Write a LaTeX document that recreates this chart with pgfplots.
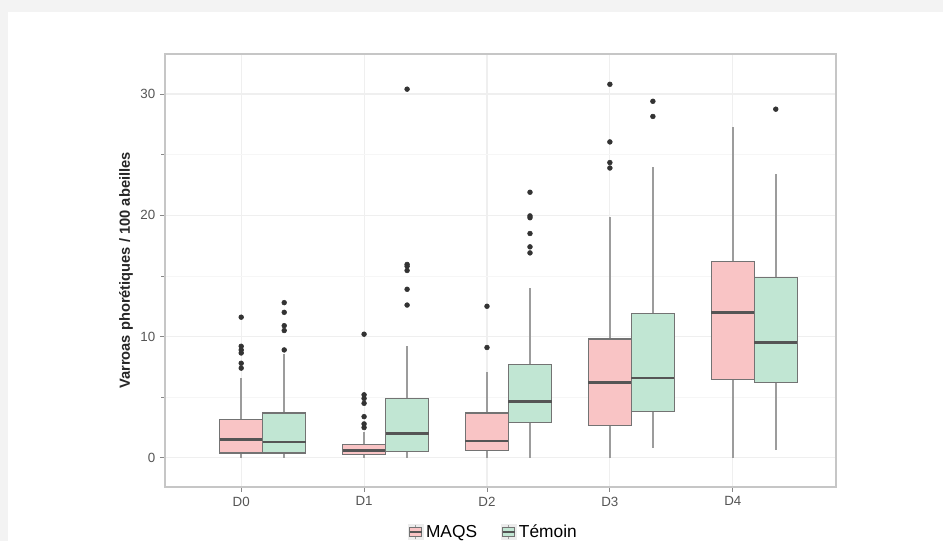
\documentclass[border=0pt]{standalone}
\usepackage{pgfplots}
\pgfplotsset{compat=1.18}
\usepgfplotslibrary{statistics}
\usepackage{fontspec}
\setmainfont{Liberation Sans}

\definecolor{maqsfill}{HTML}{F9C4C5}
\definecolor{temfill}{HTML}{C1E6D3}
\definecolor{boxedge}{HTML}{737373}
\definecolor{medline}{HTML}{555555}
\definecolor{whisk}{HTML}{9C9C9C}
\definecolor{tickgray}{HTML}{555555}
\definecolor{gridmaj}{HTML}{EFEFEF}
\definecolor{gridmin}{HTML}{F6F6F6}
\definecolor{pagegray}{HTML}{F3F3F3}
\definecolor{outlier}{HTML}{333333}

\pgfplotsset{
  vbox/.style={
    boxplot/draw direction=y,
    boxplot/box extend=0.35,
    boxplot/whisker extend=0,
    boxplot/every box/.style={draw=boxedge, line width=0.8pt},
    boxplot/every whisker/.style={draw=whisk, line width=1.3pt},
    boxplot/every median/.style={draw=medline, line width=1.8pt},
    mark=*, mark size=1.8pt,
    mark options={fill=outlier, draw=outlier},
    forget plot,
  },
  maqs/.style={vbox, fill=maqsfill, draw=boxedge},
  tem/.style={vbox, fill=temfill, draw=boxedge},
}

\begin{document}
\begin{tikzpicture}
% page background
\path[use as bounding box] (-123.75pt,-40.5pt) rectangle (583.5pt,365.25pt);
\fill[pagegray] (-123.75pt,-40.5pt) rectangle (583.5pt,365.25pt);
\fill[white] (-117.75pt,-40.5pt) rectangle (583.5pt,356.25pt);

\begin{axis}[
  scale only axis,
  width=503.25pt, height=324.75pt,
  xmin=-0.62, xmax=4.84,
  ymin=-2.4, ymax=33.3,
  xtick={0,1,2,3,4},
  xticklabels={D0,D1,D2,D3,D4},
  ytick={0,10,20,30},
  minor ytick={5,15,25},
  xmajorgrids, ymajorgrids, yminorgrids,
  major grid style={draw=gridmaj, line width=0.8pt},
  minor grid style={draw=gridmin, line width=0.6pt},
  axis line style={draw=gray!45, line width=0.9pt},
  tick pos=left,
  tick align=outside,
  major tick length=3.75pt,
  every tick/.style={draw=tickgray!70, line width=0.6pt},
  /pgf/number format/assume math mode=true,
  tick label style={font=\fontsize{10}{11}\selectfont, text=tickgray},
  ylabel={Varroas phorétiques / 100 abeilles},
  ylabel style={font=\bfseries\fontsize{11}{13}\selectfont, text=black!85,
    at={(axis description cs:-0.058,0.5)}, anchor=center},
  legend columns=2,
  legend style={at={(0.49,0)}, anchor=center, yshift=-33.75pt,
    draw=none, fill=none, font=\fontsize{13}{15}\selectfont,
    /tikz/every even column/.append style={column sep=16pt}},
]

% D0
\addplot[maqs, boxplot prepared={draw position=0, lower whisker=0, lower quartile=0.4,
  median=1.5, upper quartile=3.2, upper whisker=6.6}]
  coordinates {(0,11.6) (0,9.2) (0,8.9) (0,8.65) (0,7.8) (0,7.4)};
\addplot[tem, boxplot prepared={draw position=0.35, lower whisker=0, lower quartile=0.4,
  median=1.3, upper quartile=3.7, upper whisker=8.6}]
  coordinates {(0,12.8) (0,12.0) (0,10.9) (0,10.5) (0,8.9)};

% D1
\addplot[maqs, boxplot prepared={draw position=1, lower whisker=0, lower quartile=0.25,
  median=0.6, upper quartile=1.1, upper whisker=2.1}]
  coordinates {(0,10.2) (0,5.2) (0,4.9) (0,4.5) (0,3.4) (0,2.8) (0,2.5)};
\addplot[tem, boxplot prepared={draw position=1.35, lower whisker=0, lower quartile=0.5,
  median=2.0, upper quartile=4.9, upper whisker=9.2}]
  coordinates {(0,30.4) (0,15.95) (0,15.8) (0,15.45) (0,13.9) (0,12.6)};

% D2
\addplot[maqs, boxplot prepared={draw position=2, lower whisker=0, lower quartile=0.6,
  median=1.4, upper quartile=3.7, upper whisker=7.1}]
  coordinates {(0,12.5) (0,9.1)};
\addplot[tem, boxplot prepared={draw position=2.35, lower whisker=0, lower quartile=2.9,
  median=4.65, upper quartile=7.7, upper whisker=14.0}]
  coordinates {(0,21.9) (0,19.95) (0,19.8) (0,18.5) (0,17.4) (0,16.9)};

% D3
\addplot[maqs, boxplot prepared={draw position=3, lower whisker=0, lower quartile=2.7,
  median=6.2, upper quartile=9.8, upper whisker=19.9}]
  coordinates {(0,30.8) (0,26.05) (0,24.35) (0,23.9)};
\addplot[tem, boxplot prepared={draw position=3.35, lower whisker=0.8, lower quartile=3.8,
  median=6.6, upper quartile=11.9, upper whisker=24.0}]
  coordinates {(0,29.4) (0,28.15)};

% D4
\addplot[maqs, boxplot prepared={draw position=4, lower whisker=0, lower quartile=6.5,
  median=12.0, upper quartile=16.2, upper whisker=27.25}]
  coordinates {};
\addplot[tem, boxplot prepared={draw position=4.35, lower whisker=0.65, lower quartile=6.2,
  median=9.5, upper quartile=14.9, upper whisker=23.4}]
  coordinates {(0,28.75)};

% legend keys
\addlegendimage{legend image code/.code={
  \fill[gray!15] (0pt,-5.5pt) rectangle (11pt,5.5pt);
  \draw[whisk, line width=0.6pt] (5.5pt,-5.5pt) -- (5.5pt,5.5pt);
  \draw[fill=maqsfill, draw=boxedge, line width=0.5pt] (1pt,-3.5pt) rectangle (10pt,3.5pt);
  \draw[medline, line width=0.9pt] (1pt,0pt) -- (10pt,0pt);
}}
\addlegendentry{MAQS}
\addlegendimage{legend image code/.code={
  \fill[gray!15] (0pt,-5.5pt) rectangle (11pt,5.5pt);
  \draw[whisk, line width=0.6pt] (5.5pt,-5.5pt) -- (5.5pt,5.5pt);
  \draw[fill=temfill, draw=boxedge, line width=0.5pt] (1pt,-3.5pt) rectangle (10pt,3.5pt);
  \draw[medline, line width=0.9pt] (1pt,0pt) -- (10pt,0pt);
}}
\addlegendentry{Témoin}
\end{axis}
\end{tikzpicture}
\end{document}
